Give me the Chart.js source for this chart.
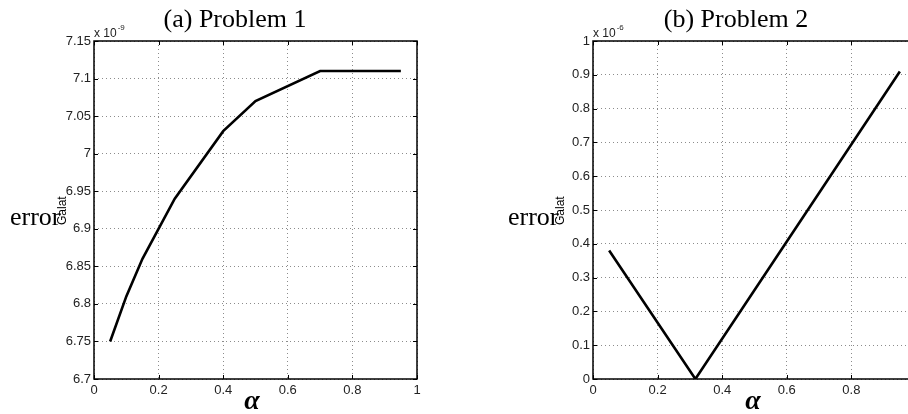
<!DOCTYPE html>
<html>
<head>
<meta charset="utf-8">
<script src="https://cdn.jsdelivr.net/npm/chart.js@4/dist/chart.umd.min.js"></script>
<style>
  html, body { margin: 0; padding: 0; background: #fff; }
  body { width: 908px; height: 414px; overflow: hidden; position: relative; }
  canvas { position: absolute; top: 0; }
  #chartA { left: 0; }
  #chartB { left: 454px; }
</style>
</head>
<body>
<canvas id="chartA" width="454" height="414"></canvas>
<canvas id="chartB" width="480" height="414"></canvas>
<script>
// values (error in units of 1e-9 and 1e-6)
const alphaP1 = [0.05, 0.1, 0.15, 0.25, 0.4, 0.5, 0.7, 0.95];
const errorP1 = [6.75, 6.81, 6.86, 6.94, 7.03, 7.07, 7.11, 7.11];
const alphaP2 = [0.05, 0.317, 0.95];
const errorP2 = [0.38, 0.0, 0.91];

const xTicks = [0, 0.2, 0.4, 0.6, 0.8, 1];
const yTicksP1 = [6.7, 6.75, 6.8, 6.85, 6.9, 6.95, 7, 7.05, 7.1, 7.15];
const yTicksP2 = [0, 0.1, 0.2, 0.3, 0.4, 0.5, 0.6, 0.7, 0.8, 0.9, 1];

const tickFont = { family: "'Liberation Sans Narrow', 'Liberation Sans', Arial, sans-serif", size: 13 };
const serif = "'Liberation Serif', 'Times New Roman', serif";
const sans = "'Liberation Sans', Arial, sans-serif";
const narrow = "'Liberation Sans Narrow', 'Liberation Sans', Arial, sans-serif";

// 📌 matlab-style frame, inner ticks and the loose text around the axes
const matlabLook = {
    id: 'matlabLook',
    afterDraw(chart, args, o) {
        const ctx = chart.ctx;
        const a = chart.chartArea;
        const xs = chart.scales.x, ys = chart.scales.y;
        ctx.save();
        ctx.strokeStyle = '#000';
        ctx.lineWidth = 1;
        ctx.beginPath();
        xs.ticks.forEach(t => {
            const px = Math.round(xs.getPixelForValue(t.value)) + 0.5;
            ctx.moveTo(px, a.bottom); ctx.lineTo(px, a.bottom - 4);
            ctx.moveTo(px, a.top); ctx.lineTo(px, a.top + 4);
        });
        ys.ticks.forEach(t => {
            const py = Math.round(ys.getPixelForValue(t.value)) + 0.5;
            ctx.moveTo(a.left, py); ctx.lineTo(a.left + 4, py);
            ctx.moveTo(a.right, py); ctx.lineTo(a.right - 4, py);
        });
        ctx.stroke();
        ctx.lineWidth = 1.5;
        ctx.strokeRect(a.left, a.top, a.right - a.left, a.bottom - a.top);

        ctx.fillStyle = '#000';
        // title
        ctx.font = '26px ' + serif;
        ctx.textAlign = 'center';
        ctx.textBaseline = 'alphabetic';
        ctx.fillText(o.title, o.titleX, 27);
        // exponent
        ctx.fillStyle = '#222';
        ctx.textAlign = 'left';
        ctx.font = '12px ' + narrow;
        ctx.fillText('x 10', a.left, 37);
        const w = ctx.measureText('x 10').width;
        ctx.font = '8px ' + narrow;
        ctx.fillText(o.exponent, a.left + w + 1, 30);
        // y label
        ctx.fillStyle = '#000';
        ctx.font = '26px ' + serif;
        ctx.fillText('error', o.errorX, 225);
        ctx.save();
        ctx.translate(o.errorX + 56, 225);
        ctx.rotate(-Math.PI / 2);
        ctx.font = '12px ' + sans;
        ctx.fillText('Galat', 0, 0);
        ctx.restore();
        // x label
        ctx.font = 'italic bold 28px ' + serif;
        ctx.textAlign = 'center';
        ctx.fillText('\u03b1', o.alphaX, 409);
        ctx.restore();
    }
};

function makeChart(id, xVals, yVals, yTicks, yMin, yMax, yWidth, padRight, look) {
    return new Chart(document.getElementById(id), {
        type: 'line',
        data: {
            datasets: [{
                data: xVals.map((x, i) => ({ x: x, y: yVals[i] })),
                borderColor: '#000',
                borderWidth: 2.6,
                pointRadius: 0,
                tension: 0,
                fill: false
            }]
        },
        options: {
            responsive: false,
            devicePixelRatio: 1,
            animation: false,
            layout: { padding: { top: 41, right: padRight, left: 0, bottom: 0 } },
            plugins: { legend: { display: false }, tooltip: { enabled: false }, matlabLook: look },
            scales: {
                x: {
                    type: 'linear', min: 0, max: 1,
                    afterBuildTicks: s => { s.ticks = xTicks.map(v => ({ value: v })); },
                    afterFit: s => { s.height = 35; },
                    ticks: { font: tickFont, color: '#222', padding: 4, maxRotation: 0,
                             callback: v => String(Number(v.toFixed(2))) },
                    grid: { color: 'rgba(0,0,0,0.45)', lineWidth: 1, drawTicks: false },
                    border: { display: false, dash: [1, 3] }
                },
                y: {
                    type: 'linear', min: yMin, max: yMax,
                    afterBuildTicks: s => { s.ticks = yTicks.map(v => ({ value: v })); },
                    afterFit: s => { s.width = yWidth; },
                    ticks: { font: tickFont, color: '#222', padding: 3,
                             callback: v => String(Number(v.toFixed(2))) },
                    grid: { color: 'rgba(0,0,0,0.45)', lineWidth: 1, drawTicks: false },
                    border: { display: false, dash: [1, 3] }
                }
            }
        },
        plugins: [matlabLook]
    });
}

makeChart('chartA', alphaP1, errorP1, yTicksP1, 6.7, 7.15, 94, 37,
    { title: '(a) Problem 1', titleX: 235, exponent: '-9', errorX: 10, alphaX: 252 });
makeChart('chartB', alphaP2, errorP2, yTicksP2, 0, 1, 139, 18,
    { title: '(b) Problem 2', titleX: 282, exponent: '-6', errorX: 54, alphaX: 299 });
</script>
</body>
</html>
